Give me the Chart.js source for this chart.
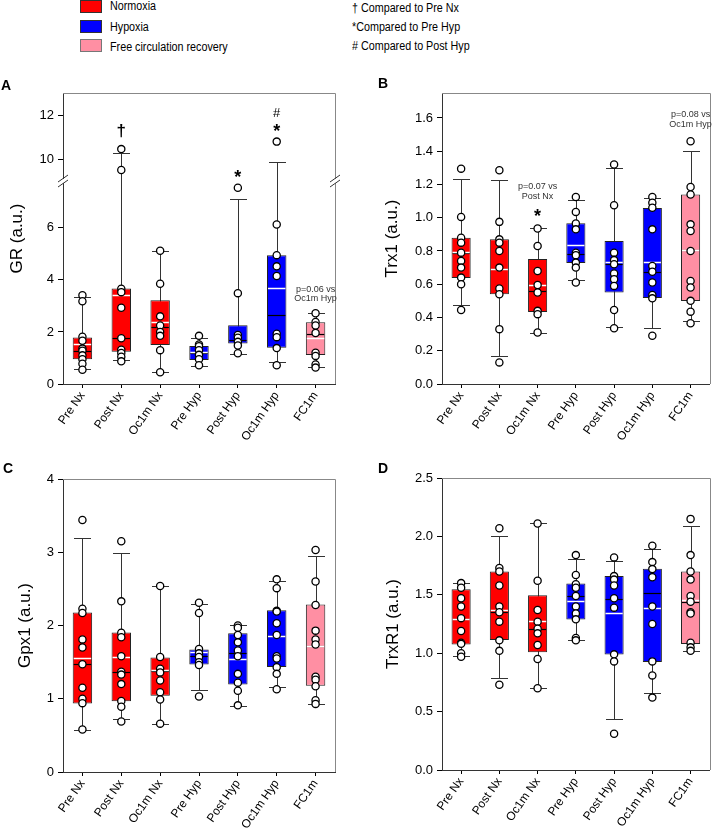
<!DOCTYPE html>
<html>
<head>
<meta charset="utf-8">
<script src="https://cdn.jsdelivr.net/npm/chart.js@4.4.1/dist/chart.umd.min.js"></script>
<style>
  body { margin: 0; width: 715px; height: 828px; position: relative; background: #fff; overflow: hidden;
         font-family: Arial, "Liberation Sans", sans-serif; }
  canvas { position: absolute; }
  .lab { position: absolute; font-weight: bold; font-size: 14px; line-height: 14px; }
  .leg { position: absolute; font-family: Arial, "Liberation Sans", sans-serif; font-size: 12.5px;
         line-height: 14px; white-space: nowrap; color: #000; transform: scaleX(0.86); transform-origin: 0 0; }
  .sw { position: absolute; left: 80px; width: 22px; height: 13px; box-sizing: border-box; border: 1px solid #333; }
</style>
</head>
<body>
<div class="sw" style="top:0px;background:#ff0000"></div>
<div class="leg" style="left:110px;top:-1px">Normoxia</div>
<div class="sw" style="top:20px;background:#0000ff"></div>
<div class="leg" style="left:110px;top:20px">Hypoxia</div>
<div class="sw" style="top:39px;background:#ff8fa3;border-color:#777"></div>
<div class="leg" style="left:110px;top:40px">Free circulation recovery</div>
<div class="leg" style="left:352px;top:1px">† Compared to Pre Nx</div>
<div class="leg" style="left:352px;top:20px">*Compared to Pre Hyp</div>
<div class="leg" style="left:352px;top:39px"># Compared to Post Hyp</div>

<canvas id="chartA" width="357" height="365" style="left:0;top:80px"></canvas>
<canvas id="chartB" width="358" height="365" style="left:357px;top:80px"></canvas>
<canvas id="chartC" width="357" height="383" style="left:0;top:445px"></canvas>
<canvas id="chartD" width="358" height="383" style="left:357px;top:445px"></canvas>

<div class="lab" style="left:1px;top:78px">A</div>
<div class="lab" style="left:378px;top:76px">B</div>
<div class="lab" style="left:3px;top:461px">C</div>
<div class="lab" style="left:378px;top:461px">D</div>

<script>
Chart.defaults.font.family = 'Arial, "Liberation Sans", sans-serif';
Chart.defaults.color = '#000';

const categories = ['Pre Nx', 'Post Nx', 'Oc1m Nx', 'Pre Hyp', 'Post Hyp', 'Oc1m Hyp', 'FC1m'];
const groupColors = ['#ff0000', '#ff0000', '#ff0000', '#0000ff', '#0000ff', '#0000ff', '#ff8fa3'];

// A - GR (broken axis)
const grQ1 = [0.95, 1.24, 1.50, 0.92, 1.56, 1.39, 1.11];
const grQ3 = [1.79, 3.67, 3.22, 1.46, 2.26, 4.95, 2.37];
const grMedian = [1.27, 1.75, 2.20, 1.18, 1.69, 2.67, 1.94];
const grMean = [1.55, 3.41, 2.38, 1.24, null, 3.67, 1.75];
const grLow = [0.56, 0.92, 0.45, 0.70, 1.15, 0.86, 0.64];
const grHigh = [3.35, 10.29, 5.12, 1.78, 7.12, 9.85, 2.71];
const grPoints = [
  [3.41, 3.18, 1.82, 1.66, 1.36, 1.28, 1.10, 0.95, 0.78, 0.55],
  [10.45, 9.5, 3.66, 3.53, 2.93, 1.76, 1.32, 1.19, 1.05, 0.87],
  [5.12, 3.85, 2.60, 2.25, 2.00, 1.85, 1.30, 0.45],
  [1.85, 1.52, 1.45, 1.30, 1.12, 0.95, 0.72],
  [7.54, 3.49, 1.88, 1.78, 1.62, 1.48, 1.18],
  [10.79, 6.13, 4.95, 4.52, 4.15, 1.93, 1.80, 1.38, 0.72],
  [2.72, 2.38, 2.25, 1.96, 1.20, 1.08, 0.75, 0.63]
];
const grTicksHigh = [10, 12];
const grTicksLow = [0, 2, 4, 6];
const grNotes = [
  { i: 1, v: 11.27, t: '†', size: 17, bold: true },
  { i: 4, v: 9.30, t: '*', size: 18, bold: true },
  { i: 5, v: 12.07, t: '#', size: 13, bold: false },
  { i: 5, v: 11.42, t: '*', size: 18, bold: true },
  { i: 6, v: 3.64, t: 'p=0.06 vs', size: 9, bold: false },
  { i: 6, v: 3.30, t: 'Oc1m Hyp', size: 9, bold: false }
];

// B - Trx1
const trxQ1 = [0.638, 0.539, 0.433, 0.728, 0.551, 0.517, 0.499];
const trxQ3 = [0.880, 0.870, 0.752, 0.966, 0.860, 1.059, 1.139];
const trxMedian = [0.788, 0.694, 0.557, 0.782, 0.722, 0.674, 0.808];
const trxMean = [0.794, 0.694, 0.593, 0.836, 0.736, 0.732, 0.808];
const trxLow = [0.473, 0.168, 0.309, 0.628, 0.343, 0.337, 0.379];
const trxHigh = [1.235, 1.225, 0.936, 1.107, 1.297, 1.121, 1.402];
const trxPoints = [
  [1.295, 1.005, 0.88, 0.85, 0.79, 0.74, 0.70, 0.64, 0.60, 0.445],
  [1.285, 0.975, 0.87, 0.85, 0.80, 0.70, 0.575, 0.54, 0.33, 0.13],
  [0.935, 0.83, 0.68, 0.595, 0.55, 0.44, 0.42, 0.31],
  [1.125, 1.035, 0.965, 0.93, 0.79, 0.775, 0.73, 0.70, 0.61],
  [1.32, 1.075, 0.79, 0.745, 0.72, 0.665, 0.63, 0.59, 0.445, 0.335],
  [1.125, 1.09, 1.06, 0.93, 0.71, 0.675, 0.61, 0.535, 0.515, 0.29],
  [1.46, 1.185, 1.14, 0.96, 0.92, 0.80, 0.62, 0.58, 0.50, 0.435, 0.365]
];
const trxTicks = [0, 0.2, 0.4, 0.6, 0.8, 1.0, 1.2, 1.4, 1.6];
const trxNotes = [
  { i: 2, v: 1.03, t: '*', size: 18, bold: true },
  { i: 2, v: 1.19, t: 'p=0.07 vs', size: 9, bold: false },
  { i: 2, v: 1.13, t: 'Post Nx', size: 9, bold: false },
  { i: 6, v: 1.62, t: 'p=0.08 vs', size: 9, bold: false },
  { i: 6, v: 1.56, t: 'Oc1m Hyp', size: 9, bold: false }
];

// C - Gpx1
const gpxQ1 = [0.935, 0.967, 1.04, 1.469, 1.195, 1.432, 1.177];
const gpxQ3 = [2.176, 1.906, 1.564, 1.674, 1.893, 2.208, 2.285];
const gpxMedian = [1.469, 1.364, 1.382, 1.583, 1.628, 1.861, 1.724];
const gpxMean = [1.555, 1.569, 1.39, 1.642, 1.542, 1.861, 1.724];
const gpxLow = [0.579, 0.73, 0.657, 1.113, 0.903, 1.163, 0.935];
const gpxHigh = [3.20, 2.987, 2.54, 2.29, 2.002, 2.604, 2.95];
const gpxPoints = [
  [3.44, 2.23, 2.17, 1.81, 1.70, 1.47, 1.15, 1.00, 0.94, 0.58],
  [3.15, 2.33, 1.90, 1.84, 1.58, 1.37, 1.33, 1.20, 0.97, 0.89, 0.69],
  [2.54, 1.57, 1.41, 1.36, 1.25, 1.09, 0.99, 0.66],
  [2.31, 2.17, 1.68, 1.62, 1.57, 1.50, 1.46, 1.03],
  [2.00, 1.97, 1.87, 1.77, 1.66, 1.58, 1.34, 1.22, 1.11, 0.91],
  [2.63, 2.51, 2.20, 2.19, 2.03, 1.87, 1.58, 1.55, 1.43, 1.34, 1.13],
  [3.03, 2.60, 2.28, 1.93, 1.81, 1.74, 1.30, 1.26, 1.17, 0.98, 0.93]
];
const gpxTicks = [0, 1, 2, 3, 4];

// D - TrxR1
const trxrQ1 = [1.075, 1.112, 1.009, 1.289, 0.989, 0.924, 1.078];
const trxrQ3 = [1.548, 1.699, 1.497, 1.596, 1.662, 1.722, 1.699];
const trxrMedian = [1.297, 1.351, 1.206, 1.494, 1.462, 1.519, 1.437];
const trxrMean = [1.297, 1.371, 1.274, 1.451, 1.348, 1.388, 1.454];
const trxrLow = [0.98, 0.79, 0.704, 1.115, 0.433, 0.656, 1.015];
const trxrHigh = [1.605, 2.004, 2.112, 1.81, 1.787, 1.896, 2.087];
const trxrPoints = [
  [1.60, 1.56, 1.47, 1.40, 1.30, 1.19, 1.09, 1.08, 1.00, 0.97],
  [2.07, 1.73, 1.70, 1.58, 1.40, 1.35, 1.27, 1.11, 1.02, 0.73],
  [2.11, 1.62, 1.37, 1.27, 1.21, 1.17, 1.07, 0.95, 0.70],
  [1.84, 1.67, 1.59, 1.56, 1.49, 1.40, 1.34, 1.29, 1.13, 1.11],
  [1.82, 1.66, 1.63, 1.58, 1.47, 1.39, 0.99, 0.93, 0.31],
  [1.92, 1.78, 1.72, 1.65, 1.40, 1.25, 0.93, 0.81, 0.62],
  [2.15, 1.84, 1.70, 1.63, 1.49, 1.44, 1.35, 1.34, 1.09, 1.05, 1.02]
];
const trxrTicks = [0, 0.5, 1.0, 1.5, 2.0, 2.5];

function makePanel(id, p) {
  const last = p.axes[p.axes.length - 1];
  const axisFor = v => (p.axes.find(a => v >= a.min && v <= a.max) || last).id;
  const yPix = (chart, v) => chart.scales[axisFor(v)].getPixelForValue(v);

  const scales = {
    x: {
      type: 'category', offset: true,
      grid: { offset: false, drawOnChartArea: false, drawTicks: true, tickLength: 4, color: '#000' },
      border: { display: true, color: '#333' },
      ticks: { font: { size: 12 }, color: '#000', maxRotation: 55, minRotation: 55, autoSkip: false, padding: 1 },
      afterFit: s => { s.height = p.xHeight; }
    }
  };
  // left boxes are stacked bottom-up, so add the lowest axis first
  p.axes.slice().reverse().forEach(a => {
    scales[a.id] = {
      type: 'linear', position: 'left', min: a.min, max: a.max,
      stack: p.axes.length > 1 ? 'ystack' : undefined,
      stackWeight: a.weight || 1,
      afterBuildTicks: s => { s.ticks = a.ticks.map(v => ({ value: v })); },
      afterFit: s => { s.width = p.yWidth; },
      ticks: { font: { size: 13 }, color: '#000', padding: 4, callback: v => Number(v).toFixed(p.dec) },
      grid: { drawOnChartArea: false, drawTicks: true, tickLength: 5, color: '#000' },
      border: { display: true, color: '#333' }
    };
  });

  const pointSets = p.axes.map(a => ({
    type: 'line', showLine: false, yAxisID: a.id, order: 1,
    data: p.points.flatMap((vals, i) =>
      vals.filter(v => axisFor(v) === a.id).map(v => ({ x: categories[i], y: v }))),
    pointRadius: 3.6, pointBorderWidth: 1.3,
    pointBackgroundColor: '#fff', pointBorderColor: '#000'
  }));

  const boxPlugin = {
    id: 'boxes_' + id,
    beforeDatasetsDraw(chart) {
      const ctx = chart.ctx, xs = chart.scales.x, ca = chart.chartArea;
      ctx.save();
      // frame top/right
      ctx.strokeStyle = '#888';
      ctx.lineWidth = 1;
      ctx.beginPath();
      ctx.moveTo(ca.left, Math.round(ca.top) + 0.5);
      ctx.lineTo(Math.round(ca.right) + 0.5, Math.round(ca.top) + 0.5);
      ctx.lineTo(Math.round(ca.right) + 0.5, ca.bottom);
      ctx.stroke();
      // whiskers
      ctx.strokeStyle = '#333';
      p.low.forEach((lo, i) => {
        const x = Math.round(xs.getPixelForValue(i)) + 0.5;
        const yLo = Math.round(yPix(chart, lo)) + 0.5;
        const yHi = Math.round(yPix(chart, p.high[i])) + 0.5;
        ctx.beginPath();
        ctx.moveTo(x, yLo); ctx.lineTo(x, yHi);
        ctx.moveTo(x - 8.5, yLo); ctx.lineTo(x + 8.5, yLo);
        ctx.moveTo(x - 8.5, yHi); ctx.lineTo(x + 8.5, yHi);
        ctx.stroke();
      });
      ctx.restore();
    },
    afterDatasetDraw(chart, args) {
      if (args.index !== 0) return;
      const ctx = chart.ctx, xs = chart.scales.x;
      const bars = chart.getDatasetMeta(0).data;
      ctx.save();
      p.median.forEach((m, i) => {
        const x = xs.getPixelForValue(i), hw = bars[i].width / 2 - 1;
        ctx.strokeStyle = '#000'; ctx.lineWidth = 1.2;
        ctx.beginPath();
        const ym = Math.round(yPix(chart, m)) + 0.5;
        ctx.moveTo(x - hw, ym); ctx.lineTo(x + hw, ym); ctx.stroke();
        if (p.mean[i] !== null) {
          ctx.strokeStyle = '#fff'; ctx.lineWidth = 1.5;
          const yn = Math.round(yPix(chart, p.mean[i])) + 0.5;
          ctx.beginPath();
          ctx.moveTo(x - hw, yn); ctx.lineTo(x + hw, yn); ctx.stroke();
        }
      });
      ctx.restore();
    },
    afterDraw(chart) {
      const ctx = chart.ctx, xs = chart.scales.x, ca = chart.chartArea;
      ctx.save();
      // axis break marks
      if (p.axes.length > 1) {
        const yb = chart.scales[p.axes[0].id].bottom;
        [ca.left, ca.right].forEach(xb => {
          ctx.fillStyle = '#fff';
          ctx.fillRect(xb - 2, yb - 2, 4, 4);
          ctx.strokeStyle = '#333'; ctx.lineWidth = 1;
          [-2.5, 2.5].forEach(d => {
            ctx.beginPath();
            ctx.moveTo(xb - 5, yb + d + 3.5);
            ctx.lineTo(xb + 5, yb + d - 3.5);
            ctx.stroke();
          });
        });
      }
      // annotations
      ctx.textAlign = 'center';
      ctx.textBaseline = 'middle';
      (p.notes || []).forEach(n => {
        ctx.font = (n.bold ? 'bold ' : '') + n.size + 'px Arial, "Liberation Sans", sans-serif';
        ctx.fillStyle = n.size < 12 ? '#333' : '#000';
        const dy = n.t === '*' ? n.size * 0.22 : 0;
        ctx.fillText(n.t, xs.getPixelForValue(n.i), yPix(chart, n.v) + dy);
      });
      // y title
      ctx.translate(p.titleX, (ca.top + ca.bottom) / 2);
      ctx.rotate(-Math.PI / 2);
      ctx.font = '17px Arial, "Liberation Sans", sans-serif';
      ctx.fillStyle = '#000';
      ctx.fillText(p.title, 0, 0);
      ctx.restore();
    }
  };

  return new Chart(document.getElementById(id), {
    type: 'bar',
    data: {
      labels: categories,
      datasets: [
        {
          type: 'bar', yAxisID: last.id, order: 2,
          data: p.q1.map((v, i) => [v, p.q3[i]]),
          backgroundColor: groupColors, borderColor: '#222', borderWidth: 1, borderSkipped: false,
          barPercentage: 0.5, categoryPercentage: 1.0
        },
        ...pointSets
      ]
    },
    options: {
      responsive: false, animation: false, events: [],
      layout: { padding: p.pad },
      plugins: { legend: { display: false }, tooltip: { enabled: false } },
      scales
    },
    plugins: [boxPlugin]
  });
}

makePanel('chartA', {
  axes: [
    { id: 'yHigh', min: 9, max: 13, ticks: grTicksHigh, weight: 88 },
    { id: 'yLow', min: 0, max: 7.8, ticks: grTicksLow, weight: 203 }
  ],
  q1: grQ1, q3: grQ3, median: grMedian, mean: grMean, low: grLow, high: grHigh, points: grPoints,
  notes: grNotes, dec: 0, title: 'GR (a.u.)', titleX: 17,
  pad: { left: 0, right: 22, top: 13, bottom: 0 }, yWidth: 63, xHeight: 61
});

makePanel('chartB', {
  axes: [{ id: 'y', min: 0, max: 1.75, ticks: trxTicks }],
  q1: trxQ1, q3: trxQ3, median: trxMedian, mean: trxMean, low: trxLow, high: trxHigh, points: trxPoints,
  notes: trxNotes, dec: 1, title: 'Trx1 (a.u.)', titleX: 35,
  pad: { left: 0, right: 2, top: 13, bottom: 0 }, yWidth: 85, xHeight: 61
});

makePanel('chartC', {
  axes: [{ id: 'y', min: 0, max: 4, ticks: gpxTicks }],
  q1: gpxQ1, q3: gpxQ3, median: gpxMedian, mean: gpxMean, low: gpxLow, high: gpxHigh, points: gpxPoints,
  notes: [], dec: 0, title: 'Gpx1 (a.u.)', titleX: 25,
  pad: { left: 0, right: 22, top: 34, bottom: 0 }, yWidth: 63, xHeight: 56
});

makePanel('chartD', {
  axes: [{ id: 'y', min: 0, max: 2.5, ticks: trxrTicks }],
  q1: trxrQ1, q3: trxrQ3, median: trxrMedian, mean: trxrMean, low: trxrLow, high: trxrHigh, points: trxrPoints,
  notes: [], dec: 1, title: 'TrxR1 (a.u.)', titleX: 36,
  pad: { left: 0, right: 2, top: 33, bottom: 0 }, yWidth: 85, xHeight: 58
});
</script>
</body>
</html>
